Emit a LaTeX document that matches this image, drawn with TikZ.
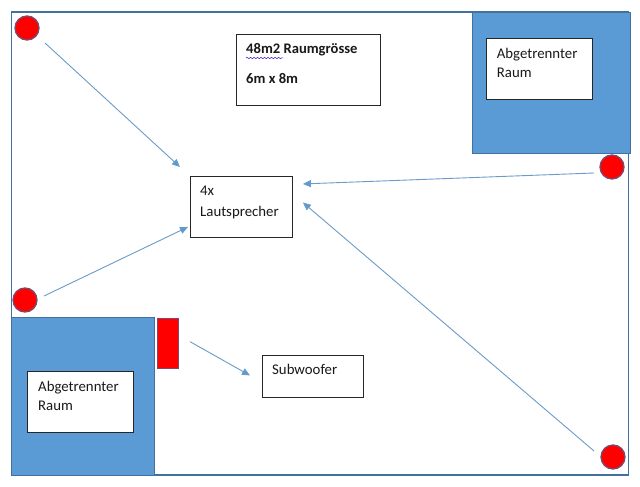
\documentclass[tikz,border=0pt]{standalone}
\usepackage{fontspec}
\setmainfont{Carlito}
\usetikzlibrary{arrows.meta,decorations.pathmorphing}
\definecolor{roomblue}{HTML}{5B9BD5}
\definecolor{edgeblue}{HTML}{41719C}
\definecolor{arrowblue}{HTML}{6A9CC8}
\definecolor{dotedge}{HTML}{7A4A6E}
\tikzset{
  x=1pt,y=-1pt,
  room/.style={draw=edgeblue,line width=1.6pt,fill=white,anchor=north west,inner sep=0pt},
  sideroom/.style={draw=edgeblue,line width=1.4pt,fill=roomblue,anchor=north west,inner sep=0pt},
  spk/.style={circle,draw=dotedge,line width=1.3pt,fill=red,minimum size=24pt,inner sep=0pt},
  sub/.style={draw=dotedge,line width=1.3pt,fill=red,anchor=north west,inner sep=0pt},
  box/.style={draw=black!85,line width=.9pt,fill=white,anchor=north west,inner sep=0pt},
  lbl/.style={anchor=north west,inner sep=0pt,align=left,font=\fontsize{14.8}{19.5}\selectfont,text=black!90},
  flow/.style={draw=arrowblue,line width=.9pt,-{Triangle[length=8pt,width=7pt,fill=roomblue]}},
}
\begin{document}
\begin{tikzpicture}
\useasboundingbox (0,0) rectangle (640,487);
\fill[white] (0,0) rectangle (640,487);
\begin{scope}[shift={(-0.3,0)}]
\node[room,minimum width=617pt,minimum height=463pt] (raum) at (11,11) {};
\node[sideroom,minimum width=158pt,minimum height=141pt] (tr) at (472,12) {};
\node[sideroom,minimum width=143pt,minimum height=158pt] (bl) at (11,317) {};
\node[box,minimum width=106pt,minimum height=61pt] (trb) at (486,38) {};
\node[box,minimum width=106pt,minimum height=61pt] (blb) at (27.500,371) {};
\node[box,minimum width=144pt,minimum height=71pt] (info) at (236,34) {};
\node[box,minimum width=102pt,minimum height=61pt] (lsp) at (190.300,176) {};
\node[box,minimum width=101pt,minimum height=42pt] (sw) at (262.300,355) {};
\node[sub,minimum width=21pt,minimum height=50pt] (rot) at (157,318) {};
\node[spk] (c1) at (27.300,28) {};
\node[spk] (c2) at (612.300,167) {};
\node[spk] (c3) at (25.300,300) {};
\node[spk] (c4) at (613.300,457) {};
\node[lbl] (trt) at (497,48) {Abgetrennter\\Raum};
\node[lbl] (blt) at (38.300,381) {Abgetrennter\\Raum};
\node[lbl,font=\fontsize{14.8}{21}\selectfont] (lspt) at (200.300,186) {4x\\Lautsprecher};
\node[lbl] (swt) at (272.300,364) {Subwoofer};
\node[lbl,font=\fontsize{14.6}{30}\selectfont\bfseries] (infot) at (246.300,43) {48m2 Raumgrösse\\6m x 8m};
\draw[blue!60!violet,line width=.5pt,decorate,decoration={snake,amplitude=.7pt,segment length=3.5pt}]
  ([shift={(0,15)}]infot.north west) -- ([shift={(37,15)}]infot.north west);
\draw[flow] ([shift={(18,15)}]c1.center) -- ([shift={(-10,-9)}]lsp.north west);
\draw[flow] ([shift={(19,-4)}]c3.center) -- ([shift={(-2,20)}]lsp.west);
\draw[flow] ([shift={(-18,6)}]c2.center) -- ([shift={(10,-23)}]lsp.east);
\draw[flow] ([shift={(-19,-6)}]c4.center) -- ([shift={(10,-4.500)}]lsp.east);
\draw[flow] ([shift={(11,-2)}]rot.east) -- ([shift={(-12,-1)}]sw.west);
\end{scope}
\end{tikzpicture}
\end{document}
